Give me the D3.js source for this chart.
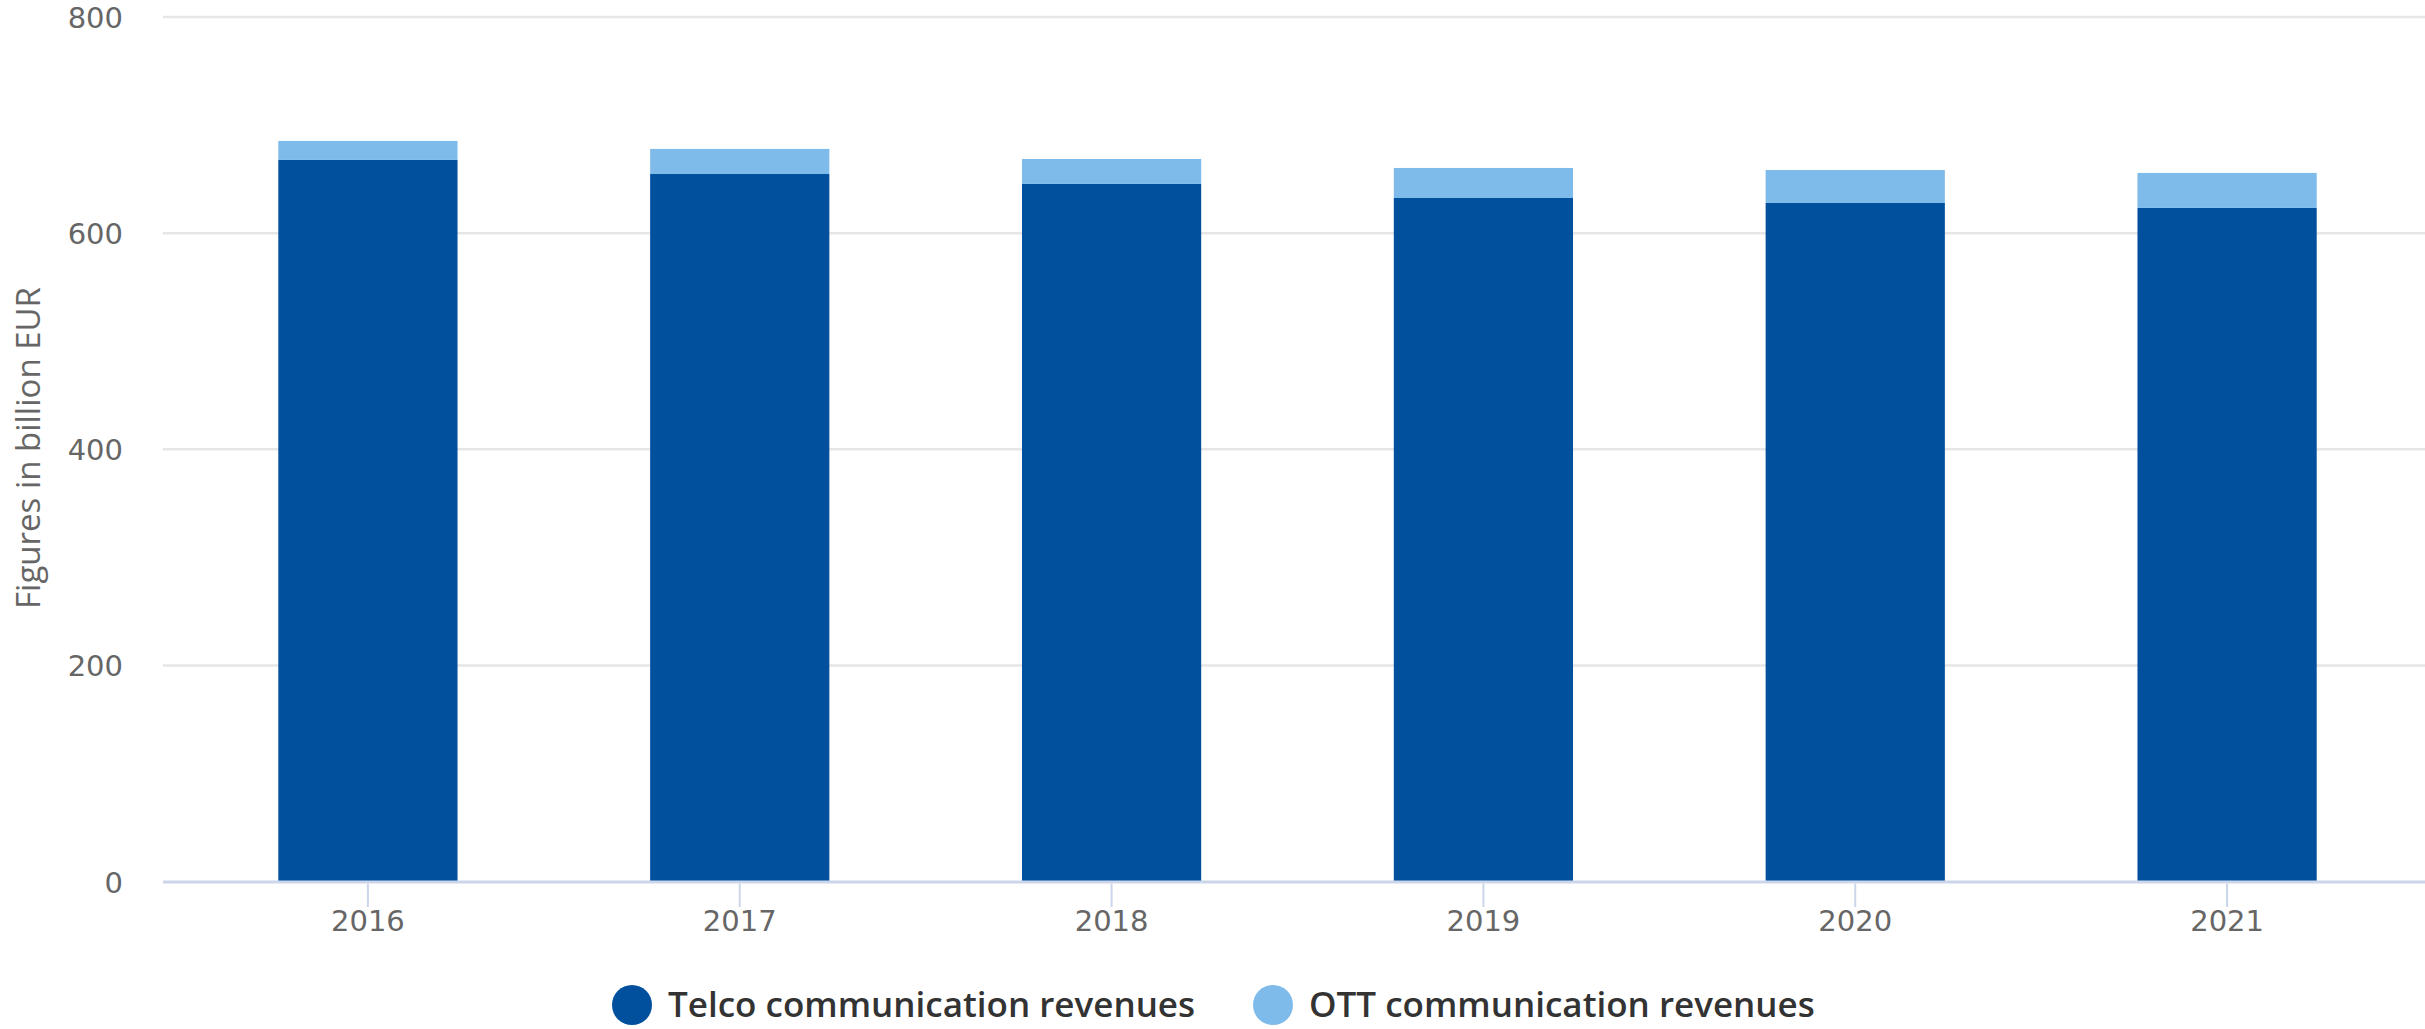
<!DOCTYPE html>
<html>
<head>
<meta charset="utf-8">
<script src="https://cdn.jsdelivr.net/npm/d3@7"></script>
<style>
  html, body { margin: 0; padding: 0; background: #fff; }
  svg { display: block; }
</style>
</head>
<body>
<svg id="chart"></svg>
<script>
// values, billion EUR
var years = ['2016', '2017', '2018', '2019', '2020', '2021'];
var telco = [667.7, 654.7, 645.5, 632.5, 627.9, 623.3];
var ott = [17.6, 23.2, 23.1, 27.8, 30.5, 32.4];
var yTicks = [0, 200, 400, 600, 800];
var seriesNames = ['Telco communication revenues', 'OTT communication revenues'];
var seriesColors = ['#00509e', '#7fbbea'];

function drawStacked(svgname) {

   var width = 2425,
       height = 1029;

   var svg = d3.select('#' + svgname)
       .attr('width', width)
       .attr('height', height);

   var x = d3.scaleBand()
       .domain(years)
       .range([182, 2413]);

   var y = d3.scaleLinear()
       .domain([0, 800])
       .range([881.5, 17]);

   var barWidth = x.bandwidth() * 0.482;

   //gridlines
   svg.append('g')
      .selectAll('line')
      .data(yTicks.filter(function(d) { return d > 0; }))
      .enter().append('line')
      .attr('x1', 163)
      .attr('x2', width)
      .attr('y1', function(d) { return y(d); })
      .attr('y2', function(d) { return y(d); })
      .attr('stroke', '#e6e6e6')
      .attr('stroke-width', 2.5);

   //y tick labels
   svg.append('g')
      .selectAll('text')
      .data(yTicks)
      .enter().append('text')
      .attr('x', 123)
      .attr('y', function(d) { return y(d) + 11; })
      .attr('text-anchor', 'end')
      .style('font-family', 'DejaVu Sans')
      .style('font-size', '29px')
      .style('fill', '#666666')
      .text(function(d) { return d; });

   //y title
   svg.append('text')
      .attr('transform', 'translate(40,448) rotate(-90)')
      .attr('text-anchor', 'middle')
      .style('font-family', 'Open Sans')
      .style('font-size', '33px')
      .style('fill', '#666666')
      .text('Figures in billion EUR');

   //stacks
   var rows = years.map(function(yr, i) { return {year: yr, telco: telco[i], ott: ott[i]}; });
   var stack = d3.stack().keys(['telco', 'ott'])(rows);

   svg.append('g')
      .selectAll('g')
      .data(stack)
      .enter().append('g')
      .attr('fill', function(d, i) { return seriesColors[i]; })
      .selectAll('rect')
      .data(function(d) { return d; })
      .enter().append('rect')
      .attr('x', function(d) { return x(d.data.year) + (x.bandwidth() - barWidth) / 2; })
      .attr('width', barWidth)
      .attr('y', function(d) { return y(d[1]); })
      .attr('height', function(d) { return y(d[0]) - y(d[1]); });

   //x axis line
   svg.append('line')
      .attr('x1', 163)
      .attr('x2', width)
      .attr('y1', y(0) + 0.5)
      .attr('y2', y(0) + 0.5)
      .attr('stroke', '#ccd6eb')
      .attr('stroke-width', 3);

   var xt = svg.append('g')
      .selectAll('g')
      .data(years)
      .enter().append('g')
      .attr('transform', function(d) { return 'translate(' + (x(d) + x.bandwidth() / 2) + ',0)'; });

   xt.append('line')
      .attr('y1', y(0) + 2)
      .attr('y2', 907)
      .attr('stroke', '#ccd6eb')
      .attr('stroke-width', 2);

   xt.append('text')
      .attr('y', 931)
      .attr('text-anchor', 'middle')
      .style('font-family', 'DejaVu Sans')
      .style('font-size', '29px')
      .style('fill', '#666666')
      .text(function(d) { return d; });

   //legend
   var legendX = [632, 1273];
   var leg = svg.append('g')
      .selectAll('g')
      .data(seriesNames)
      .enter().append('g')
      .attr('transform', function(d, i) { return 'translate(' + legendX[i] + ',1005)'; });

   leg.append('circle')
      .attr('r', 20)
      .attr('fill', function(d, i) { return seriesColors[i]; });

   leg.append('text')
      .attr('x', 36)
      .attr('y', 12)
      .style('font-family', 'Open Sans')
      .style('font-weight', '600')
      .style('font-size', '35px')
      .style('fill', '#333333')
      .text(function(d) { return d; });
}

drawStacked('chart');
</script>
</body>
</html>
